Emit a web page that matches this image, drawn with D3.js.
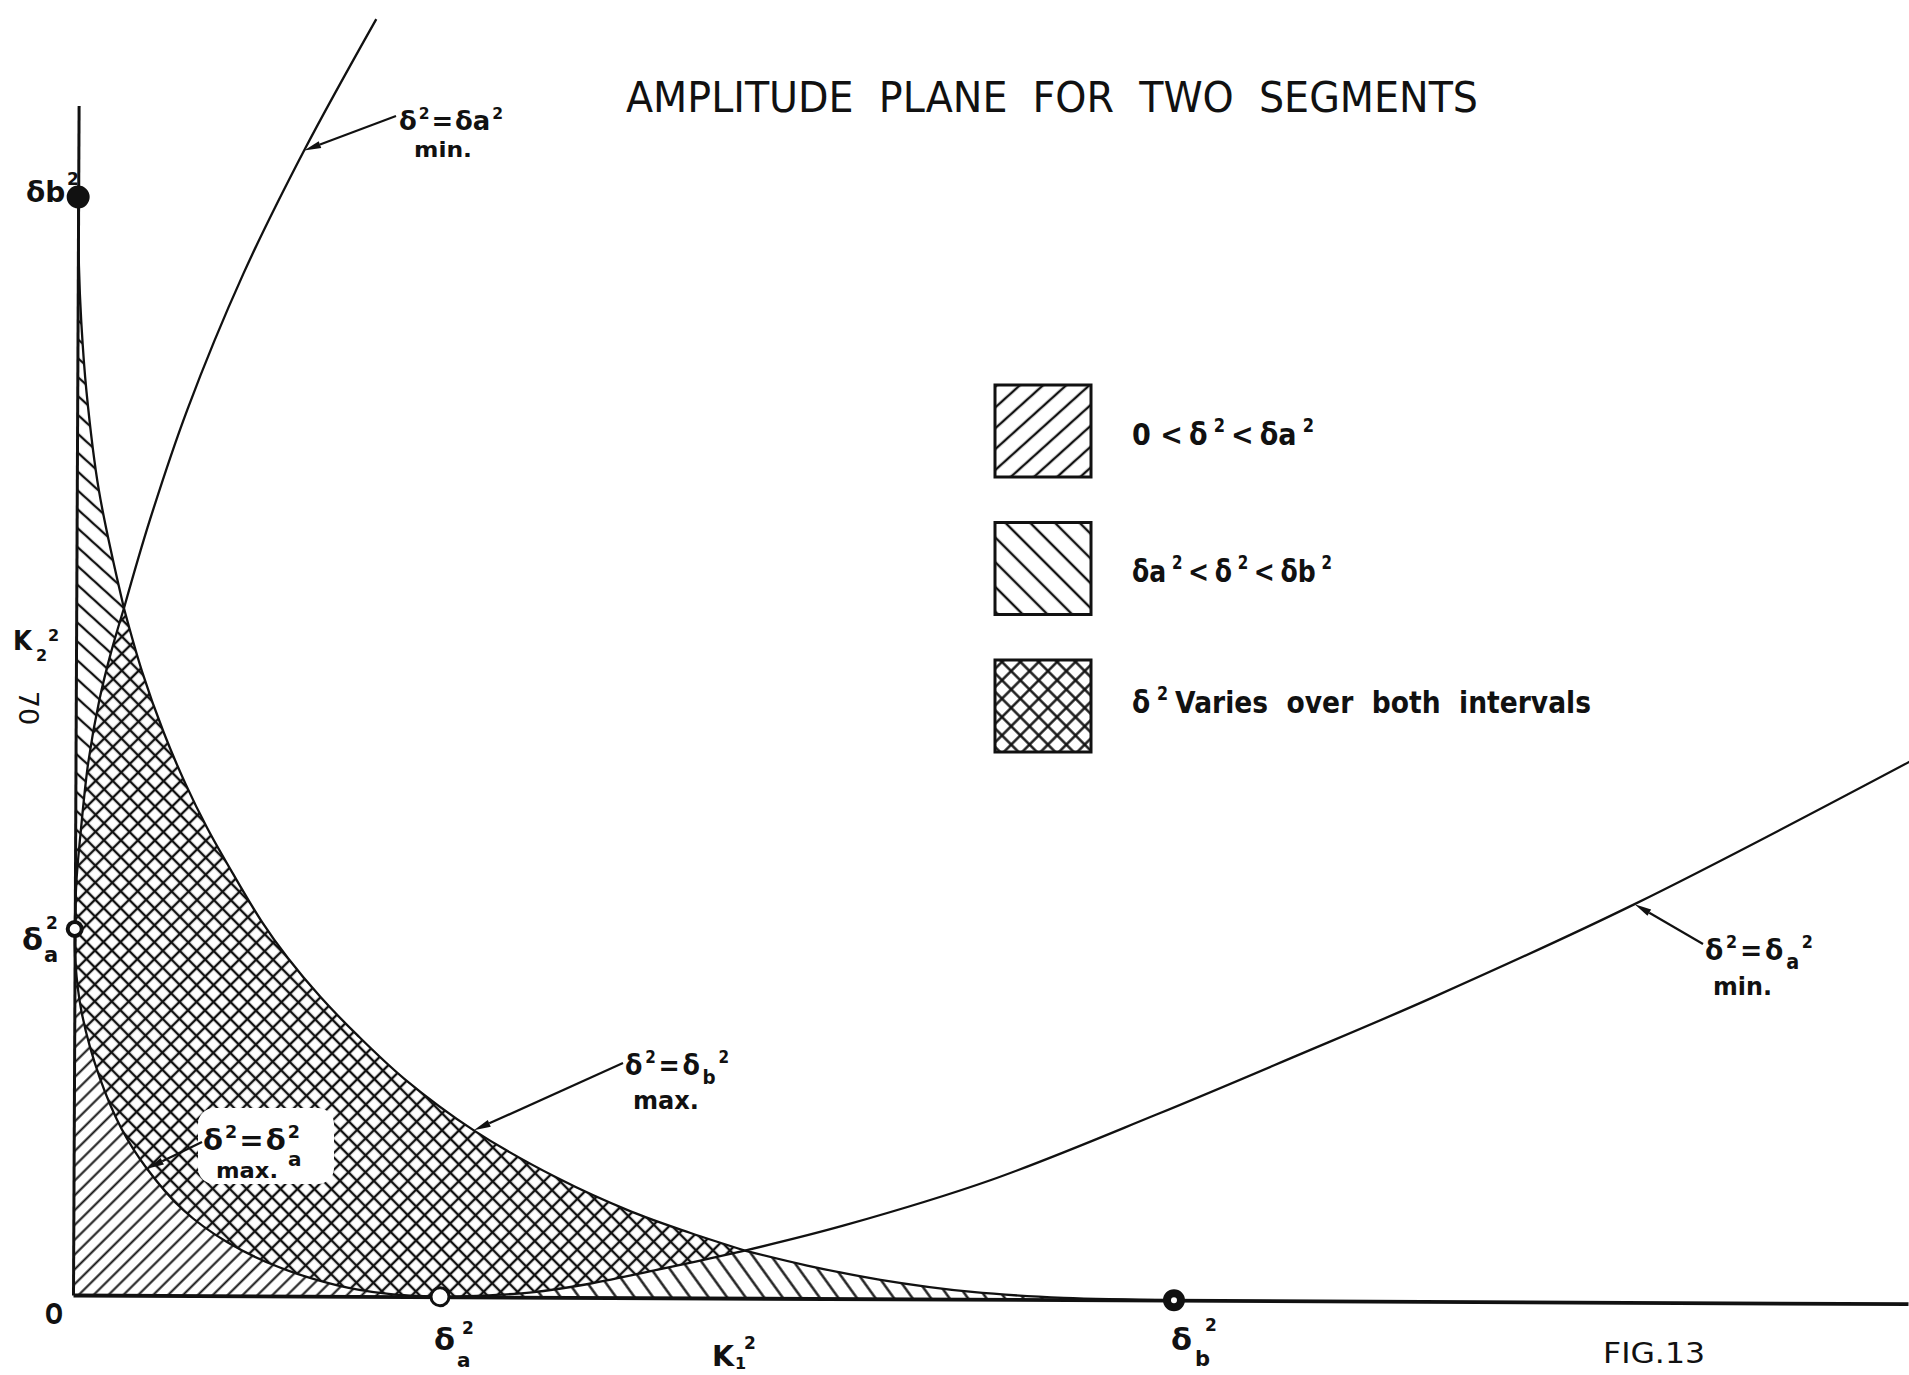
<!DOCTYPE html>
<html>
<head>
<meta charset="utf-8">
<script src="https://cdn.jsdelivr.net/npm/d3@7"></script>
<style>
  html, body { margin: 0; padding: 0; background: #fff; }
  svg { display: block; background: #fff; }
  text { font-family: "DejaVu Sans", sans-serif; fill: #111; white-space: pre; }
</style>
</head>
<body>
<svg id="chart" width="1909" height="1375"></svg>
<script>
// Boundary curves of the amplitude plane (K1², K2²), in units of δa² (δb² = 3 δa²).
const P1 = [0.13, 1.877];   // δ²max = δb² crosses the upper branch of δ²min = δa²
const P2 = [1.83, 0.13];    // δ²max = δb² crosses the lower branch of δ²min = δa²

// δ²max = δb²  (outer boundary), split at the two crossings
const maxBUpper  = [[0, 3.0], [0.003, 2.81], [0.01, 2.66], [0.025, 2.47], [0.06, 2.2], P1];
const maxBMiddle = [P1, [0.18, 1.705], [0.24, 1.538], [0.30, 1.398], [0.36, 1.277], [0.43, 1.154],
                    [0.51, 1.022], [0.58, 0.925], [0.67, 0.818], [0.77, 0.715], [0.90, 0.595],
                    [1.09, 0.455], [1.32, 0.325], [1.52, 0.235], [1.68, 0.178], P2];
const maxBLower  = [P2, [2.0, 0.09], [2.2, 0.052], [2.45, 0.02], [2.7, 0.005], [3.0, 0]];

// δ²max = δa²  (inner boundary)
const maxA = [[0, 1], [0.002, 0.912], [0.02, 0.772], [0.07, 0.594], [0.13, 0.455], [0.2, 0.346],
              [0.3, 0.233], [0.42, 0.146], [0.56, 0.079], [0.72, 0.03], [0.86, 0.007], [1, 0]];

// δ²min = δa², upper branch (starts at δa² on the K2² axis)
const minALeftLower = [[0, 1], [0.004, 1.13], [0.015, 1.265], [0.035, 1.457], [0.065, 1.63],
                       [0.095, 1.755], P1];
const minALeftUpper = [P1, [0.2, 2.12], [0.3, 2.42], [0.45, 2.79], [0.615, 3.13], [0.81, 3.49]];

// δ²min = δa², lower branch (starts at δa² on the K1² axis)
const minARightLower = [[1, 0], [1.1, 0.003], [1.25, 0.013], [1.4, 0.036], [1.6, 0.078], P2];
const minARightUpper = [P2, [2.1, 0.2], [2.5, 0.326], [2.95, 0.507], [3.33, 0.669],
                        [3.7, 0.83], [4.25, 1.088], [5.0, 1.482]];

// Marked values on the axes
const axisMarks = [
  { axis: "y", value: 1, name: "a" },
  { axis: "y", value: 3, name: "b" },
  { axis: "x", value: 1, name: "a" },
  { axis: "x", value: 3, name: "b" }
];

const titleText = "AMPLITUDE  PLANE  FOR  TWO  SEGMENTS";
const legendItems = [
  { pattern: "fwdLegend",   parts: [["0 <", "n"], ["δ", "n"], ["2", "sup"], ["<", "n"], ["δa", "n"], ["2", "sup"]] },
  { pattern: "backLegend",  parts: [["δa", "n"], ["2", "sup"], ["<", "n"], ["δ", "n"], ["2", "sup"], ["<", "n"], ["δb", "n"], ["2", "sup"]] },
  { pattern: "crossLegend", parts: [["δ", "n"], ["2", "sup"], ["Varies  over  both  intervals", "n"]] }
];

// ---------------------------------------------------------------------------
const svg = d3.select("#chart");

const x = d3.scaleLinear().domain([0, 5.0]).range([73, 73 + 5.0 * 367]);
const y = d3.scaleLinear().domain([0, 3.25]).range([1295, 1295 - 3.25 * 366]);

// the drawing sits very slightly turned on the sheet
const tilt = 0.27;
const rad = tilt * Math.PI / 180;
function toPx(u, v) {
  const dx = x(u) - x(0), dy = y(v) - y(0);
  return [x(0) + dx * Math.cos(rad) - dy * Math.sin(rad),
          y(0) + dx * Math.sin(rad) + dy * Math.cos(rad)];
}
const plotTransform = `rotate(${tilt} ${x(0)} ${y(0)})`;

// hatch patterns
const defs = svg.append("defs");
function hatch(id, spacing, angle, width, cross) {
  const p = defs.append("pattern")
    .attr("id", id)
    .attr("patternUnits", "userSpaceOnUse")
    .attr("width", spacing).attr("height", spacing)
    .attr("patternTransform", `rotate(${angle})`);
  p.append("line")
    .attr("x1", spacing / 2).attr("y1", -1).attr("x2", spacing / 2).attr("y2", spacing + 1)
    .attr("stroke", "#111").attr("stroke-width", width);
  if (cross) {
    p.append("line")
      .attr("x1", -1).attr("y1", spacing / 2).attr("x2", spacing + 1).attr("y2", spacing / 2)
      .attr("stroke", "#111").attr("stroke-width", width);
  }
}
hatch("fwdMain", 10.5, 45, 2.0, false);
hatch("crossMain", 12, 45, 2.4, true);
hatch("backWedge", 14, -48, 2.3, false);
hatch("backTail", 15, -36, 2.3, false);
hatch("fwdLegend", 15.5, 48, 2.4, false);
hatch("backLegend", 17.5, -45, 2.4, false);
hatch("crossLegend", 13, 45, 2.4, true);

const line = d3.line()
  .x(d => x(d[0]))
  .y(d => y(d[1]))
  .curve(d3.curveCatmullRom.alpha(0.5));

function regionPath(segments) {
  return segments.map((pts, i) => {
    const s = line(pts);
    return i ? s.replace(/^M/, "L") : s;
  }).join("") + "Z";
}
const rev = a => a.slice().reverse();

// shaded regions
const regionG = svg.append("g").attr("transform", plotTransform);
const regions = [
  { fill: "fwdMain",   segs: [[[0, 0], [0, 1]], maxA, [[1, 0], [0, 0]]] },
  { fill: "backWedge", segs: [[[0, 1], [0, 3]], maxBUpper, rev(minALeftLower)] },
  { fill: "backTail",  segs: [minARightLower, maxBLower, [[3, 0], [1, 0]]] },
  { fill: "crossMain", segs: [minALeftLower, maxBMiddle, rev(minARightLower), rev(maxA)] }
];
regionG.selectAll("path.region")
  .data(regions)
  .join("path")
  .attr("class", "region")
  .attr("d", d => regionPath(d.segs))
  .attr("fill", d => `url(#${d.fill})`)
  .attr("stroke", "none");

// clear patch behind the δ²max = δa² note
svg.append("rect")
  .attr("x", 198).attr("y", 1108).attr("width", 136).attr("height", 76)
  .attr("rx", 16).attr("fill", "#fff");

// curves and axes
const plotG = svg.append("g").attr("transform", plotTransform);
const curves = [maxBUpper, maxBMiddle, maxBLower, maxA, minALeftLower, minALeftUpper, minARightLower, minARightUpper];
plotG.selectAll("path.curve")
  .data(curves)
  .join("path")
  .attr("class", "curve")
  .attr("d", line)
  .attr("fill", "none")
  .attr("stroke", "#111")
  .attr("stroke-width", 2.3)
  .attr("stroke-linejoin", "round");

const xAxis = plotG.append("g")
  .attr("transform", `translate(0,${y(0)})`)
  .call(d3.axisBottom(x).tickValues([]).tickSizeOuter(0));
const yAxis = plotG.append("g")
  .attr("transform", `translate(${x(0)},0)`)
  .call(d3.axisLeft(y).tickValues([]).tickSizeOuter(0));
xAxis.select(".domain").attr("stroke", "#111").attr("stroke-width", 3.8);
yAxis.select(".domain").attr("stroke", "#111").attr("stroke-width", 3);

// axis markers
axisMarks.forEach(m => {
  const cx = m.axis === "x" ? x(m.value) : x(0);
  const cy = m.axis === "x" ? y(0) : y(m.value);
  if (m.axis === "y" && m.name === "b") {
    plotG.append("circle").attr("cx", cx).attr("cy", cy).attr("r", 11.5).attr("fill", "#111");
  } else if (m.axis === "y") {
    plotG.append("circle").attr("cx", cx).attr("cy", cy).attr("r", 7).attr("fill", "#fff")
      .attr("stroke", "#111").attr("stroke-width", 4);
  } else if (m.name === "a") {
    plotG.append("circle").attr("cx", cx).attr("cy", cy).attr("r", 9).attr("fill", "#fff")
      .attr("stroke", "#111").attr("stroke-width", 3);
  } else {
    plotG.append("circle").attr("cx", cx).attr("cy", cy).attr("r", 11).attr("fill", "#111");
    plotG.append("circle").attr("cx", cx).attr("cy", cy).attr("r", 3).attr("fill", "#fff");
  }
});

// ---------------------------------------------------------------------------
// text helpers: formula pieces are laid out side by side as separate texts
function mathText(parent, px, py, size, parts, opts = {}) {
  const g = parent.append("g");
  const gap = opts.gap != null ? opts.gap : 3;
  const items = parts.map(([s, role]) => {
    const fs = role === "sup" ? 0.6 * size : role === "sub" ? 0.72 * size : size;
    const dy = role === "sup" ? -0.42 * size : role === "sub" ? 0.32 * size : 0;
    const t = g.append("text").attr("x", 0).attr("y", py + dy)
      .style("font-size", fs + "px")
      .style("font-weight", opts.weight || "bold")
      .text(s);
    return { t, w: t.node().getComputedTextLength() };
  });
  const natural = d3.sum(items, d => d.w) + gap * (items.length - 1);
  const k = opts.len ? opts.len / natural : 1;
  let cx = px;
  items.forEach(it => {
    it.t.attr("x", cx);
    if (opts.len) it.t.attr("textLength", it.w * k).attr("lengthAdjust", "spacingAndGlyphs");
    cx += (it.w + gap) * k;
  });
  return g;
}
function plain(parent, px, py, size, s, opts = {}) {
  const t = parent.append("text").attr("x", px).attr("y", py)
    .style("font-size", size + "px")
    .style("font-weight", opts.weight || "bold")
    .text(s);
  if (opts.len) t.attr("textLength", opts.len).attr("lengthAdjust", "spacingAndGlyphs");
  if (opts.anchor) t.attr("text-anchor", opts.anchor);
  return t;
}

const txt = svg.append("g");

// title
plain(txt, 626, 112, 42, titleText, { weight: "normal", len: 852 });

// legend
legendItems.forEach((item, i) => {
  const top = 385 + i * 137.5;
  svg.append("rect")
    .attr("x", 995).attr("y", top).attr("width", 96).attr("height", 92)
    .attr("fill", `url(#${item.pattern})`)
    .attr("stroke", "#111").attr("stroke-width", 3);
});
mathText(txt, 1132, 445, 31, legendItems[0].parts, { len: 182, gap: 7 });
mathText(txt, 1132, 582, 31, legendItems[1].parts, { len: 200, gap: 7 });
mathText(txt, 1132, 713, 31, legendItems[2].parts, { len: 459, gap: 8 });

// K2² axis labels
plain(txt, 26, 202, 28, "δb");
plain(txt, 67, 185, 17, "2");
plain(txt, 22, 950, 30, "δ", { len: 21 });
plain(txt, 44, 962, 21, "a");
plain(txt, 46, 929, 17, "2");
plain(txt, 13, 650, 26, "K", { len: 19 });
plain(txt, 36, 661, 16, "2");
plain(txt, 48, 641, 16, "2");
txt.append("text")
  .attr("transform", "translate(28,708) rotate(90)")
  .attr("text-anchor", "middle").attr("dy", "0.35em")
  .style("font-size", "27px").style("font-weight", "normal")
  .text("70");

// K1² axis labels
plain(txt, 45, 1324, 29, "O", { len: 18 });
plain(txt, 434, 1350, 30, "δ", { len: 21 });
plain(txt, 462, 1334, 17, "2");
plain(txt, 457, 1367, 20, "a");
plain(txt, 1171, 1350, 30, "δ", { len: 21 });
plain(txt, 1205, 1331, 17, "2");
plain(txt, 1195, 1366, 21, "b");
plain(txt, 712, 1366, 28, "K", { len: 22 });
plain(txt, 735, 1369, 16, "1");
plain(txt, 744, 1349, 17, "2");
plain(txt, 1603, 1363, 28, "FIG.13", { weight: "normal", len: 102 });

// curve notes with arrows
function arrow(tail, tip) {
  const dx = tip[0] - tail[0], dy = tip[1] - tail[1];
  const L = Math.hypot(dx, dy), ux = dx / L, uy = dy / L;
  const headLen = 17, half = 3.6;
  const bx = tip[0] - ux * headLen, by = tip[1] - uy * headLen;
  svg.append("line")
    .attr("x1", tail[0]).attr("y1", tail[1]).attr("x2", bx).attr("y2", by)
    .attr("stroke", "#111").attr("stroke-width", 2.2);
  svg.append("path")
    .attr("d", `M${tip[0]},${tip[1]}L${bx - uy * half},${by + ux * half}L${bx + uy * half},${by - ux * half}Z`)
    .attr("fill", "#111");
}

arrow([396, 116], toPx(0.615, 3.13));
mathText(txt, 399, 130, 27, [["δ", "n"], ["2", "sup"], ["=", "n"], ["δa", "n"], ["2", "sup"]], { len: 104, gap: 2 });
plain(txt, 414, 157, 21, "min.", { len: 58 });

arrow([1703, 944], toPx(4.25, 1.088));
mathText(txt, 1705, 960, 29, [["δ", "n"], ["2", "sup"], ["=", "n"], ["δ", "n"], ["a", "sub"], ["2", "sup"]], { len: 108, gap: 3 });
plain(txt, 1713, 995, 24, "min.", { len: 59 });

arrow([623, 1063], toPx(1.09, 0.455));
mathText(txt, 625, 1075, 28, [["δ", "n"], ["2", "sup"], ["=", "n"], ["δ", "n"], ["b", "sub"], ["2", "sup"]], { len: 104, gap: 3 });
plain(txt, 633, 1109, 24, "max.", { len: 66 });

arrow([202, 1142], toPx(0.2, 0.346));
mathText(txt, 203, 1150, 29, [["δ", "n"], ["2", "sup"], ["=", "n"], ["δ", "n"], ["2", "sup"]], { len: 97, gap: 2 });
plain(txt, 288, 1166, 20, "a");
plain(txt, 216, 1178, 22, "max.", { len: 62 });
</script>
</body>
</html>
